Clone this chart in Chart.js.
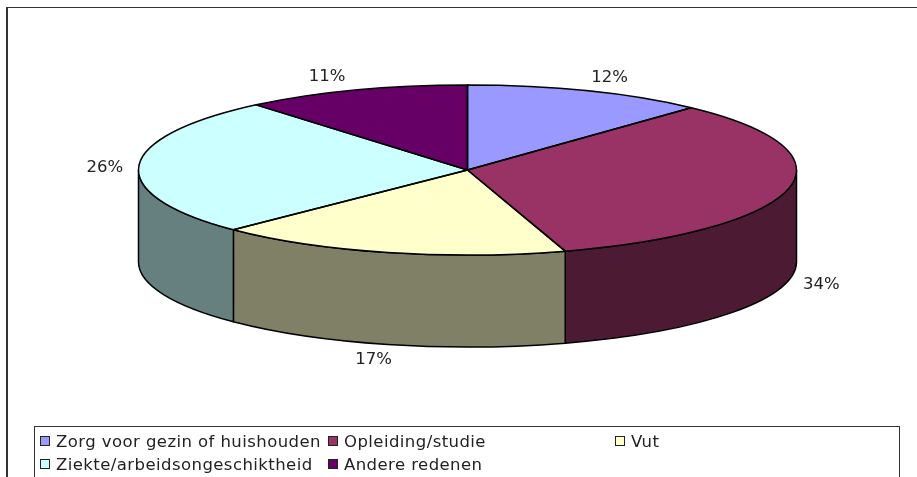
<!DOCTYPE html>
<html lang="en">

<head>
    <meta charset="UTF-8">
    <title>Redenen</title>

    <script src="https://cdn.jsdelivr.net/npm/chart.js"></script>

    <style>
        body {
            margin: 0;
            background: #fff;
        }
    </style>
</head>

<body>
    <canvas id="myChart" width="917" height="477"></canvas>

    <script>
        const categories = ['Zorg voor gezin of huishouden', 'Opleiding/studie', 'Vut', 'Ziekte/arbeidsongeschiktheid', 'Andere redenen'];
        const values = [11.9, 33.3, 17.4, 26.3, 11.1];
        const percentLabels = ['12%', '34%', '17%', '26%', '11%'];
        const colors = ['#9999ff', '#993366', '#ffffcc', '#ccffff', '#660066'];

        // the pie on screen: flat ellipse plus side wall
        const pie = { cx: 467.5, cy: 170, rx: 329, ry: 85, depth: 92 };
        const font = '"DejaVu Sans", Verdana, sans-serif';
        // label position relative to the rim point at the middle of the slice
        const labelOffsets = [[22, -13], [33, 96], [-14, 107], [-34, 2], [-28, -13]];
        // legend cells: column x, row y
        const legendCells = [[40, 436], [328, 436], [615, 436], [40, 459], [328, 459]];

        function darker(hex) {
            const n = parseInt(hex.slice(1), 16);
            const c = [n >> 16, (n >> 8) & 255, n & 255].map(v => Math.round(v / 2));
            return `rgb(${c[0]},${c[1]},${c[2]})`;
        }

        const pie3d = {
            id: 'pie3d',
            beforeDatasetsDraw(chart) {
                const ctx = chart.ctx;
                const arcs = chart.getDatasetMeta(0).data;

                // side wall, only the front half can be seen
                ctx.save();
                ctx.lineWidth = 1.5;
                ctx.strokeStyle = '#000';
                arcs.forEach((arc, i) => {
                    const start = Math.max(arc.startAngle, 0);
                    const end = Math.min(arc.endAngle, Math.PI);
                    if (end <= start) return;
                    ctx.beginPath();
                    ctx.ellipse(pie.cx, pie.cy, pie.rx, pie.ry, 0, start, end);
                    ctx.ellipse(pie.cx, pie.cy + pie.depth, pie.rx, pie.ry, 0, end, start, true);
                    ctx.closePath();
                    ctx.fillStyle = darker(colors[i]);
                    ctx.fill();
                    ctx.stroke();
                });
                ctx.restore();

                // squash the round pie of the library into the ellipse
                const a = arcs[0];
                ctx.save();
                ctx.translate(pie.cx, pie.cy);
                ctx.scale(pie.rx / a.outerRadius, pie.ry / a.outerRadius);
                ctx.translate(-a.x, -a.y);
            },
            afterDatasetsDraw(chart) {
                const ctx = chart.ctx;
                const arcs = chart.getDatasetMeta(0).data;
                ctx.restore();

                // slice outlines, drawn unscaled so the line keeps its width
                ctx.save();
                ctx.lineWidth = 1.5;
                ctx.strokeStyle = '#000';
                ctx.lineJoin = 'round';
                arcs.forEach(arc => {
                    ctx.beginPath();
                    ctx.moveTo(pie.cx, pie.cy);
                    ctx.ellipse(pie.cx, pie.cy, pie.rx, pie.ry, 0, arc.startAngle, arc.endAngle);
                    ctx.closePath();
                    ctx.stroke();
                });
                ctx.restore();

                // percent labels
                ctx.save();
                ctx.font = '16.5px ' + font;
                ctx.fillStyle = '#222';
                ctx.textAlign = 'center';
                ctx.textBaseline = 'middle';
                arcs.forEach((arc, i) => {
                    const mid = (arc.startAngle + arc.endAngle) / 2;
                    const x = pie.cx + pie.rx * Math.cos(mid) + labelOffsets[i][0];
                    const y = pie.cy + pie.ry * Math.sin(mid) + labelOffsets[i][1];
                    ctx.fillText(percentLabels[i], x, y);
                });
                ctx.restore();
            },
            afterDraw(chart) {
                const ctx = chart.ctx;
                ctx.save();

                // outer frame runs off the right and bottom of the picture
                ctx.fillStyle = '#333';
                ctx.fillRect(6, 7, 2, 470);
                ctx.fillRect(6, 7, 911, 1);

                // legend box, same thing at the bottom
                ctx.strokeStyle = '#333';
                ctx.lineWidth = 1;
                ctx.strokeRect(34.5, 426.5, 865, 80);

                ctx.font = '16.5px ' + font;
                ctx.letterSpacing = '0.43px';
                ctx.textAlign = 'left';
                ctx.textBaseline = 'alphabetic';
                categories.forEach((name, i) => {
                    const [x, y] = legendCells[i];
                    ctx.fillStyle = colors[i];
                    ctx.fillRect(x + 0.5, y + 0.5, 9, 9);
                    ctx.strokeStyle = '#222';
                    ctx.lineWidth = 1;
                    ctx.strokeRect(x + 0.5, y + 0.5, 9, 9);
                    ctx.fillStyle = '#222';
                    ctx.fillText(name, x + 16, y + 11);
                });
                ctx.restore();
            }
        };

        new Chart(document.getElementById('myChart'), {
            type: 'pie',
            data: {
                labels: categories,
                datasets: [{
                    data: values,
                    backgroundColor: colors,
                    borderWidth: 0,
                    clip: false
                }]
            },
            options: {
                responsive: false,
                animation: false,
                plugins: {
                    legend: { display: false },
                    tooltip: { enabled: false }
                }
            },
            plugins: [pie3d]
        });
    </script>
</body>

</html>
